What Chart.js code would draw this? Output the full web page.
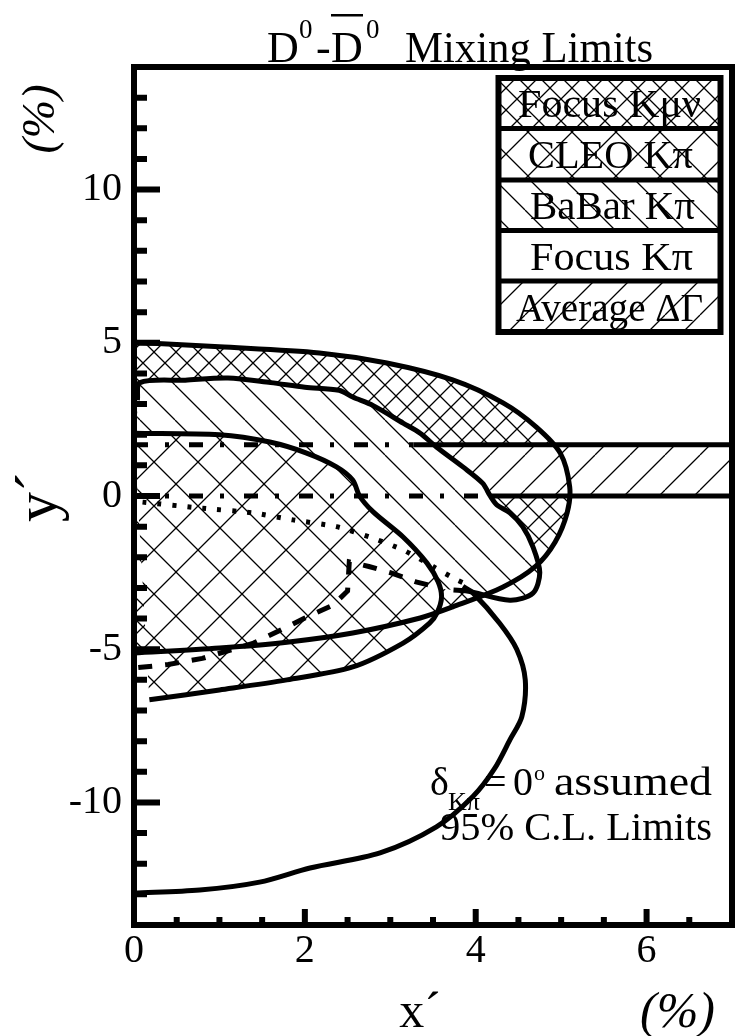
<!DOCTYPE html>
<html>
<head>
<meta charset="utf-8">
<script src="https://cdn.jsdelivr.net/npm/chart.js@4.4.0/dist/chart.umd.min.js"></script>
<style>
  html, body { margin: 0; padding: 0; background: #fff; }
  #wrap { width: 735px; height: 1036px; }
</style>
</head>
<body>
<div id="wrap"><canvas id="chart" width="735" height="1036"></canvas></div>
<script>
// x' and y' in %
const xTickLabels = [0, 2, 4, 6];
const yTickLabels = [-10, -5, 0, 5, 10];

// Focus K mu nu (dense cross hatch)
const kmunuX = [0, 1.0, 2.17, 2.96, 3.73, 4.32, 4.71, 4.99, 5.1, 5.07, 4.93, 4.7, 4.32, 3.73, 3.35, 2.56, 1.79, 1.0, 0];
const kmunuY = [5.02, 4.87, 4.67, 4.34, 3.79, 3.04, 2.25, 1.4, 0.3, -0.55, -1.5, -2.3, -2.97, -3.62, -3.98, -4.47, -4.77, -4.96, -5.12];

// CLEO K pi (sparse cross hatch)
const cleoX = [0, 1.0, 1.59, 2.02, 2.37, 2.56, 2.64, 2.8, 3.15, 3.43, 3.56, 3.6, 3.55, 3.46, 3.15, 2.56, 1.79, 1.0, 0.18];
const cleoY = [2.05, 2.0, 1.76, 1.4, 0.95, 0.52, 0, -0.52, -1.34, -2.19, -2.8, -3.3, -3.8, -4.15, -4.8, -5.58, -6.0, -6.33, -6.65];

// BaBar K pi (back slash hatch)
const babarX = [0.04, 0.07, 0.6, 1.1, 1.6, 2.0, 2.4, 2.56, 2.8, 3.15, 3.35, 3.54, 3.85, 4.08, 4.17, 4.25, 4.4, 4.55, 4.67, 4.75, 4.67, 4.4, 3.9, 3.74];
const babarY = [3.13, 3.7, 3.78, 3.85, 3.7, 3.55, 3.45, 3.23, 2.95, 2.38, 2.05, 1.6, 0.95, 0.42, 0, -0.3, -0.55, -1.0, -1.66, -2.5, -3.17, -3.4, -3.1, -3.07];
const babarCloseX = [3.5, 0];
const babarCloseY = [-3.0, -3.0];

// Focus K pi
const focusKpiX = [3.85, 3.97, 4.28, 4.48, 4.58, 4.54, 4.4, 4.22, 3.97, 3.54, 2.88, 2.06, 1.47, 0.77, 0];
const focusKpiY = [-2.95, -3.17, -4.15, -5.0, -6.0, -7.2, -7.96, -8.9, -9.8, -10.8, -11.65, -12.14, -12.6, -12.86, -12.96];
const dottedX = [0.1, 0.8, 1.39, 1.86, 2.37, 2.76, 3.15, 3.5, 3.78, 3.95];
const dottedY = [-0.2, -0.4, -0.55, -0.78, -1.0, -1.34, -1.76, -2.3, -2.74, -2.95];
const dashedX = [0.05, 0.4, 0.8, 1.4, 1.7, 2.0, 2.33, 2.5, 2.52, 2.75, 3.0, 3.3, 3.58];
const dashedY = [-5.6, -5.5, -5.3, -4.8, -4.4, -3.98, -3.56, -3.1, -2.15, -2.3, -2.5, -2.8, -3.0];

// Average Delta Gamma band
const bandY = [0, 1.67];
const bandSolidFrom = [4.17, 3.27];
const xMax = 7;

const legendLabels = ['Focus K\u03bc\u03bd', 'CLEO K\u03c0', 'BaBar K\u03c0', 'Focus K\u03c0', 'Average \u0394\u0393'];

const FONT = "'Liberation Serif', 'Times New Roman', serif";
const canvas = document.getElementById('chart');
const ctx0 = canvas.getContext('2d');

function pts(xs, ys) {
  return xs.map((x, i) => ({ x: x, y: ys[i] }));
}

function hatch(d, dirs) {
  const c = document.createElement('canvas');
  c.width = d; c.height = d;
  const g = c.getContext('2d');
  g.fillStyle = '#fff';
  g.fillRect(0, 0, d, d);
  g.strokeStyle = '#000';
  g.lineWidth = 1.3;
  g.beginPath();
  for (const k of [-d, 0, d]) {
    if (dirs.indexOf('/') >= 0) { g.moveTo(k, d); g.lineTo(k + d, 0); }
    if (dirs.indexOf('\\') >= 0) { g.moveTo(k, 0); g.lineTo(k + d, d); }
  }
  g.stroke();
  return ctx0.createPattern(c, 'repeat');
}

const patDense = hatch(22, '/\\');
const patSparse = hatch(44, '/\\');
const patBack = hatch(35, '\\');
const patFwd = hatch(35, '/');
const legendFills = [patDense, patSparse, patBack, '#fff', patFwd];

function fillSet(data, bg, order) {
  return { data: data, backgroundColor: bg, borderColor: 'transparent', borderWidth: 0,
           fill: 'shape', pointRadius: 0, tension: 0.3, order: order };
}
function lineSet(data, order, dash, tension) {
  return { data: data, borderColor: '#000', borderWidth: 5, borderDash: dash || [],
           fill: false, pointRadius: 0, tension: tension, order: order, borderCapStyle: 'butt' };
}

const bandPoly = [
  { x: 0, y: bandY[0] }, { x: xMax, y: bandY[0] }, { x: xMax, y: bandY[1] }, { x: 0, y: bandY[1] }
];

const datasets = [
  fillSet(pts(kmunuX, kmunuY), patDense, 20),
  Object.assign(fillSet(bandPoly, patFwd, 19), { tension: 0 }),
  fillSet(pts(babarX.concat(babarCloseX), babarY.concat(babarCloseY)), patBack, 18),
  fillSet(pts(cleoX, cleoY), patSparse, 17),
  lineSet([{ x: 0, y: bandY[0] }, { x: bandSolidFrom[0], y: bandY[0] }], 12, [14, 17, 4, 20], 0),
  lineSet([{ x: bandSolidFrom[0], y: bandY[0] }, { x: xMax, y: bandY[0] }], 11, [], 0),
  lineSet([{ x: 0, y: bandY[1] }, { x: bandSolidFrom[1], y: bandY[1] }], 10, [14, 17, 4, 20], 0),
  lineSet([{ x: bandSolidFrom[1], y: bandY[1] }, { x: xMax, y: bandY[1] }], 9, [], 0),
  lineSet(pts(kmunuX, kmunuY), 6, [], 0.3),
  lineSet(pts(babarX, babarY), 5, [], 0.3),
  lineSet(pts(cleoX, cleoY), 4, [], 0.3),
  lineSet(pts(focusKpiX, focusKpiY), 3, [], 0.3),
  lineSet(pts(dottedX, dottedY), 2, [4, 11], 0.2),
  lineSet(pts(dashedX, dashedY), 1, [14, 13], 0)
];

function text(ctx, s, x, y, size, align, style) {
  ctx.font = (style || '') + ' ' + size + 'px ' + FONT;
  ctx.textAlign = align || 'left';
  ctx.textBaseline = 'alphabetic';
  ctx.fillText(s, x, y);
}

// text stretched horizontally to span x0..x1
function textSpan(ctx, s, x0, x1, y, size) {
  ctx.font = size + 'px ' + FONT;
  ctx.textAlign = 'left';
  ctx.textBaseline = 'alphabetic';
  const w = ctx.measureText(s).width;
  ctx.save();
  ctx.translate(x0, y);
  ctx.scale((x1 - x0) / w, 1);
  ctx.fillText(s, 0, 0);
  ctx.restore();
}

const decor = {
  id: 'decor',
  afterDatasetsDraw(chart) {
    const ctx = chart.ctx;
    const a = chart.chartArea;
    const xs = chart.scales.x, ys = chart.scales.y;
    ctx.save();
    ctx.strokeStyle = '#000';
    ctx.lineWidth = 6;
    ctx.lineCap = 'butt';
    // inward tick marks
    ctx.beginPath();
    for (let v = 0.5; v < xMax; v += 0.5) {
      const px = xs.getPixelForValue(v);
      const len = (v % 2 === 0) ? 16 : 8;
      ctx.moveTo(px, a.bottom);
      ctx.lineTo(px, a.bottom - len);
    }
    for (let v = -13; v <= 13; v++) {
      const py = ys.getPixelForValue(v);
      const len = (v % 5 === 0) ? 26 : 13;
      ctx.moveTo(a.left, py);
      ctx.lineTo(a.left + len, py);
    }
    ctx.stroke();
    ctx.strokeRect(a.left, a.top, a.right - a.left, a.bottom - a.top);
    ctx.restore();
  },
  afterDraw(chart) {
    const ctx = chart.ctx;
    ctx.save();
    ctx.fillStyle = '#000';

    // title
    text(ctx, 'D', 267, 62, 44);
    text(ctx, '0', 299, 38, 27);
    text(ctx, '-', 316, 62, 44);
    text(ctx, 'D', 331, 62, 44);
    ctx.fillRect(331, 14, 32, 2.5);
    text(ctx, '0', 366, 38, 27);
    textSpan(ctx, 'Mixing Limits', 405, 653, 62, 44);

    // legend
    const rows = [78, 128.5, 180, 230.5, 281, 332];
    const lx0 = 498.5, lx1 = 720.5;
    const spans = [[518, 701], [528, 693], [530, 695], [530, 693], [516, 703]];
    for (let i = 0; i < legendLabels.length; i++) {
      ctx.fillStyle = legendFills[i];
      ctx.fillRect(lx0, rows[i], lx1 - lx0, rows[i + 1] - rows[i]);
      ctx.fillStyle = '#000';
      textSpan(ctx, legendLabels[i], spans[i][0], spans[i][1], (rows[i] + rows[i + 1]) / 2 + 14, 41);
    }
    ctx.strokeStyle = '#000';
    ctx.lineWidth = 5;
    ctx.beginPath();
    for (let i = 1; i < rows.length - 1; i++) {
      ctx.moveTo(lx0, rows[i]);
      ctx.lineTo(lx1, rows[i]);
    }
    ctx.stroke();
    ctx.lineWidth = 6;
    ctx.strokeRect(lx0, rows[0], lx1 - lx0, rows[rows.length - 1] - rows[0]);

    // annotation
    text(ctx, '\u03b4', 430, 795, 40);
    text(ctx, 'K\u03c0', 448, 810, 26);
    text(ctx, '=', 484, 795, 40);
    text(ctx, '0', 513, 795, 40);
    text(ctx, 'o', 534, 780, 22);
    textSpan(ctx, 'assumed', 554, 712, 795, 40);
    textSpan(ctx, '95% C.L. Limits', 440, 712, 840, 40);

    // axis titles
    text(ctx, 'x\u00b4', 420, 1027, 50, 'center');
    text(ctx, '(%)', 640, 1027, 50, 'left', 'italic');
    ctx.save();
    ctx.translate(56, 497);
    ctx.rotate(-Math.PI / 2);
    text(ctx, 'y\u00b4', 0, 0, 60, 'center');
    ctx.restore();
    ctx.save();
    ctx.translate(54, 119);
    ctx.rotate(-Math.PI / 2);
    text(ctx, '(%)', 0, 0, 46, 'center', 'italic');
    ctx.restore();
    ctx.restore();
  }
};

new Chart(canvas, {
  type: 'line',
  data: { datasets: datasets },
  options: {
    responsive: false,
    animation: false,
    events: [],
    layout: { padding: { top: 67, right: 3, left: 0, bottom: 0 } },
    plugins: { legend: { display: false }, tooltip: { enabled: false }, title: { display: false } },
    scales: {
      x: {
        type: 'linear', min: 0, max: xMax,
        grid: { display: false }, border: { display: false },
        afterBuildTicks: s => { s.ticks = xTickLabels.map(v => ({ value: v })); },
        afterFit: s => { s.height = 111; },
        ticks: { font: { size: 40, family: FONT }, color: '#000', padding: -6, maxRotation: 0, autoSkip: false }
      },
      y: {
        type: 'linear', min: -14, max: 14,
        grid: { display: false }, border: { display: false },
        afterBuildTicks: s => { s.ticks = yTickLabels.map(v => ({ value: v })); },
        afterFit: s => { s.width = 134; },
        ticks: { font: { size: 40, family: FONT }, color: '#000', padding: 4, autoSkip: false }
      }
    }
  },
  plugins: [decor]
});
</script>
</body>
</html>
